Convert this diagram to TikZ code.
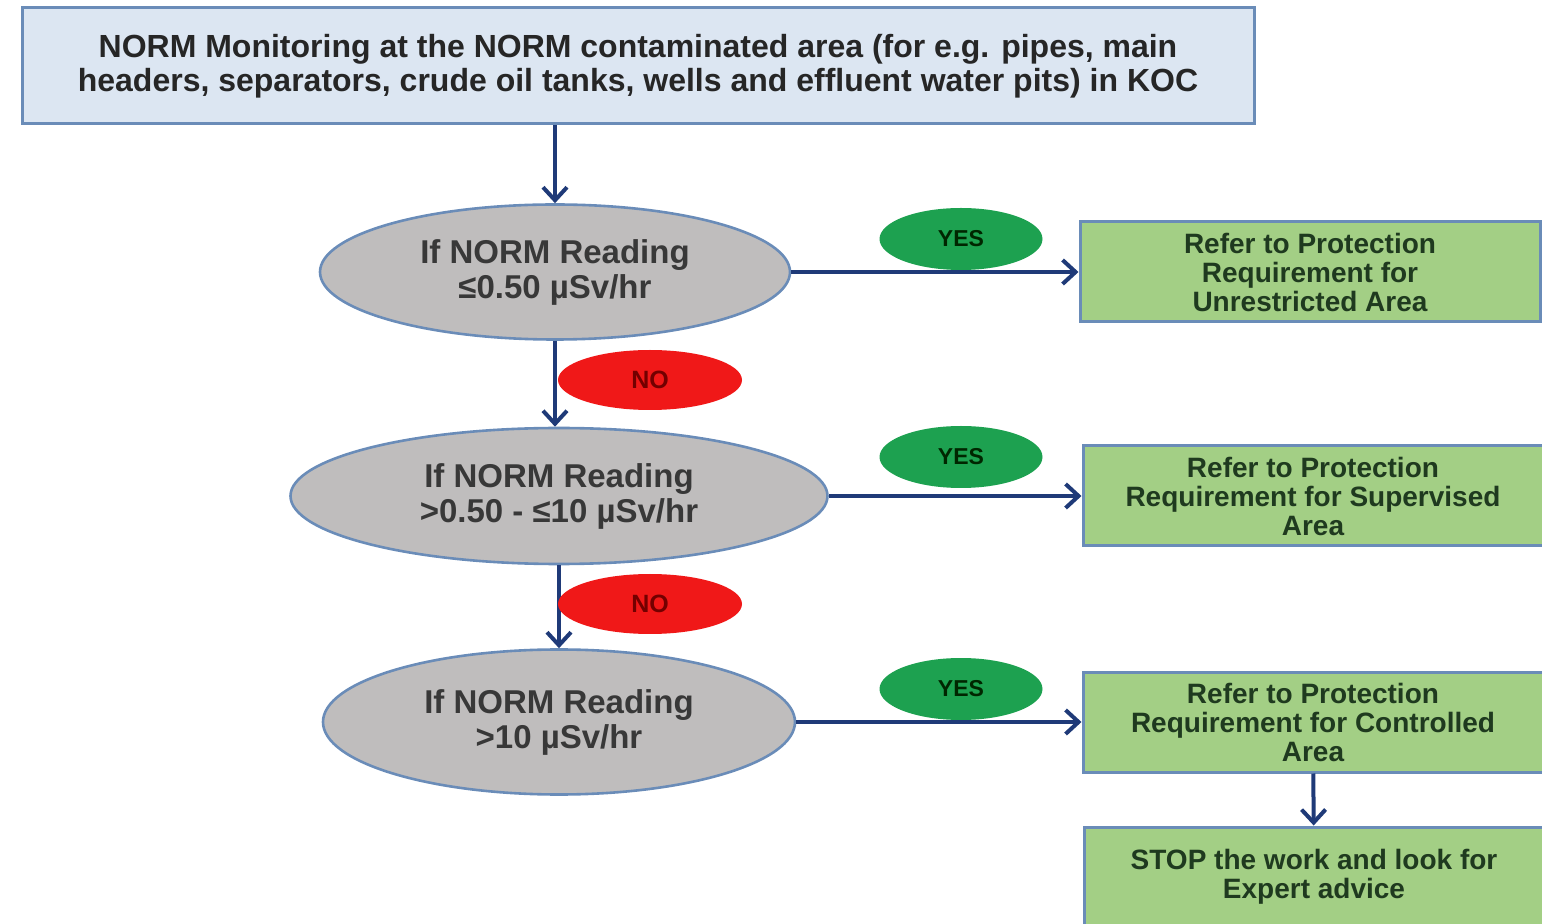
\documentclass[tikz,border=0pt]{standalone}
\usepackage{fontspec}
\setmainfont{Liberation Sans}
\usetikzlibrary{shapes.geometric,arrows.meta}

\definecolor{edgeblue}{HTML}{6A8CB8}
\definecolor{topblue}{HTML}{DCE6F2}
\definecolor{checkgray}{HTML}{BFBDBD}
\definecolor{yesgreen}{HTML}{1DA150}
\definecolor{nored}{HTML}{F01818}
\definecolor{actgreen}{HTML}{A3CF85}
\definecolor{arrowblue}{HTML}{1F3A78}
\definecolor{textgreen}{HTML}{1F3A1F}

\begin{document}
\begin{tikzpicture}[x=0.5pt,y=-0.5pt,
  topbox/.style={draw=edgeblue,line width=1.5pt,fill=topblue,inner sep=0pt,
    minimum width=616pt,minimum height=58pt,align=center,text=black!85,
    font=\bfseries\fontsize{16}{17}\selectfont},
  check/.style={ellipse,draw=edgeblue,line width=1.3pt,fill=checkgray,inner sep=0pt,
    align=center,text=black!78,font=\bfseries\fontsize{16.5}{17.5}\selectfont},
  yesnode/.style={ellipse,fill=yesgreen,inner sep=0pt,minimum width=81.5pt,
    minimum height=31pt,text=black!85!green,font=\bfseries\fontsize{11.5}{12}\selectfont},
  nonode/.style={ellipse,fill=nored,inner sep=0pt,minimum width=92pt,
    minimum height=30pt,text=red!45!black,font=\bfseries\fontsize{12.5}{13}\selectfont},
  action/.style={draw=edgeblue,line width=1.5pt,fill=actgreen,inner sep=0pt,
    minimum width=230pt,minimum height=50pt,align=center,text=textgreen,
    font=\bfseries\fontsize{14}{14.5}\selectfont},
  arr/.style={-{Straight Barb[length=6.5pt,width=12pt]},line width=2pt,draw=arrowblue}]

  \useasboundingbox (0,0) rectangle (1542,924);

  % Draw top box
  \node[topbox] (monitor) at (638,66)
    {NORM Monitoring at the NORM contaminated area (for e.g. pipes, main\\
     headers, separators, crude oil tanks, wells and effluent water pits) in KOC};

  % Draw checks
  \node[check,minimum width=235pt,minimum height=67.5pt] (low) at (555,272)
    {If NORM Reading\\≤0.50 µSv/hr};
  \node[check,minimum width=268.5pt,minimum height=68pt] (middle) at (559,496)
    {If NORM Reading\\>0.50 - ≤10 µSv/hr};
  \node[check,minimum width=236pt,minimum height=72.5pt] (high) at (559,722)
    {If NORM Reading\\>10 µSv/hr};

  % Draw actions
  \node[action] (unrestricted) at (1310,272)
    {Refer to Protection\\Requirement for\\Unrestricted Area};
  \node[action] (supervised) at (1313,496)
    {Refer to Protection\\Requirement for Supervised\\Area};
  \node[action] (controlled) at (1313,722)
    {Refer to Protection\\Requirement for Controlled\\Area};
  \node[action] (stop) at (1314,877)
    {STOP the work and look for\\Expert advice};

  % Draw arrows
  \draw[arr] (monitor.south -| low.north) -- (low.north);
  \draw[arr] (low.east) -- (unrestricted.west);
  \draw[arr] (low.south) -- (low.south |- middle.north);
  \draw[arr] (middle.east) -- (supervised.west);
  \draw[arr] (middle.south) -- (middle.south |- high.north);
  \draw[arr] (high.east) -- (controlled.west);
  \draw[arr] (controlled) -- (stop);

  % Draw yes/no labels
  \foreach \y/\name in {239/yesa,457/yesb,689/yesc} {
    \node[yesnode] (\name) at (961,\y) {YES};
  }
  \node[nonode] (noa) at (650,380) {NO};
  \node[nonode] (nob) at (650,604) {NO};
\end{tikzpicture}
\end{document}
